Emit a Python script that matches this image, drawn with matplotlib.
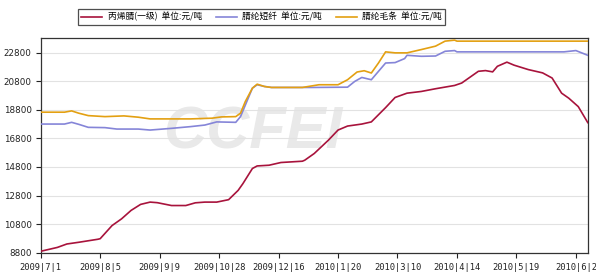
import matplotlib
matplotlib.use('Agg')
import matplotlib.pyplot as plt

# Data (x = trading-day index, ~25 per tick)
tick_pos = [0, 25, 50, 75, 100, 125, 150, 175, 200, 225]
tick_labels = ['2009|7|1', '2009|8|5', '2009|9|9', '2009|10|28', '2009|12|16',
               '2010|1|20', '2010|3|10', '2010|4|14', '2010|5|19', '2010|6|2']

# 丙烯腈(一级)
acn_x = [0, 7, 11, 16, 24, 25, 30, 34, 38, 42, 46, 49, 55, 61, 65, 69, 74, 79,
         83, 85, 89, 91, 96, 101, 110, 111, 115, 121, 125, 129, 135, 139, 145,
         149, 154, 160, 166, 174, 177, 184, 187, 190, 192, 196, 199, 205, 211,
         215, 219, 222, 226, 230]
acn_y = [8900, 9170, 9410, 9530, 9740, 9780, 10700, 11170, 11760, 12180, 12340,
         12300, 12100, 12100, 12290, 12340, 12340, 12510, 13160, 13630, 14690,
         14870, 14920, 15110, 15200, 15270, 15740, 16680, 17380, 17660, 17800,
         17950, 18950, 19660, 19960, 20080, 20270, 20500, 20670, 21490, 21540,
         21450, 21840, 22130, 21920, 21610, 21380, 21020, 19960, 19610, 19020,
         17900]

# 腈纶短纤
psf_x = [0, 10, 13, 16, 20, 27, 32, 41, 46, 55, 63, 69, 74, 82, 84, 89, 91, 94,
         97, 114, 129, 132, 135, 139, 145, 149, 153, 154, 160, 166, 170, 174,
         175, 220, 225, 230]
psf_y = [17800, 17800, 17920, 17780, 17570, 17550, 17450, 17450, 17380, 17500,
         17620, 17730, 17950, 17920, 18320, 20310, 20550, 20430, 20360, 20360,
         20380, 20780, 21060, 20900, 22070, 22100, 22380, 22610, 22540, 22560,
         22890, 22940, 22850, 22850, 22940, 22610]

# 腈纶毛条
top_x = [0, 10, 13, 16, 20, 27, 35, 41, 46, 63, 72, 76, 82, 84, 86, 89, 91, 94,
         97, 110, 117, 125, 129, 133, 136, 139, 142, 145, 149, 154, 160, 166,
         170, 174, 175, 230]
top_y = [18630, 18630, 18720, 18560, 18390, 18320, 18370, 18280, 18160, 18160,
         18210, 18300, 18320, 18560, 19370, 20310, 20590, 20430, 20360, 20360,
         20550, 20550, 20900, 21440, 21530, 21370, 22070, 22850, 22780, 22780,
         23010, 23250, 23600, 23670, 23600, 23600]

y_ticks = [8800, 10800, 12800, 14800, 16800, 18800, 20800, 22800]

fig = plt.figure(figsize=(5.96, 2.77), dpi=100)
ax = fig.add_axes([0.0683, 0.0877, 0.9187, 0.7741])

# watermark
ax.text(0.388, 0.558, 'CCFEI', transform=ax.transAxes, ha='center', va='center',
        fontsize=43, fontweight='bold', fontstyle='italic', color='#e9e9e9',
        family='Liberation Sans', zorder=0)

l1, = ax.plot(acn_x, acn_y, color='#a8133c', lw=1.2, zorder=3)
l2, = ax.plot(psf_x, psf_y, color='#8585d8', lw=1.2, zorder=3)
l3, = ax.plot(top_x, top_y, color='#e3a012', lw=1.2, zorder=4)

ax.set_xlim(0, 230.2)
ax.set_ylim(8800, 23800)
ax.set_yticks(y_ticks)
ax.set_yticklabels([str(v) for v in y_ticks], fontsize=6.3, family='DejaVu Sans')
ax.set_xticks(tick_pos)
ax.set_xticklabels(tick_labels, fontsize=6.3, family='DejaVu Sans Mono')
ax.tick_params(direction='out', length=3.5, width=0.8, pad=3, colors='#222222')
ax.tick_params(axis='x', pad=4)
ax.grid(axis='y', color='#e2e2e2', lw=0.8)
ax.set_axisbelow(True)
for s in ax.spines.values():
    s.set_color('#333333')
    s.set_linewidth(0.9)

leg = fig.legend([l1, l2, l3],
                 ['丙烯腈(一级)  单位:元/吨', '腈纶短纤  单位:元/吨', '腈纶毛条  单位:元/吨'],
                 loc='center', bbox_to_anchor=(0.439, 0.939), ncol=3,
                 prop={'family': ['Noto Sans CJK SC', 'DejaVu Sans'], 'size': 6.3},
                 frameon=True, fancybox=False, handlelength=2.4, handletextpad=0.6,
                 columnspacing=1.6, borderpad=0.35)
leg.get_frame().set_edgecolor('#222222')
leg.get_frame().set_linewidth(0.9)

fig.savefig('out.png', dpi=100)
